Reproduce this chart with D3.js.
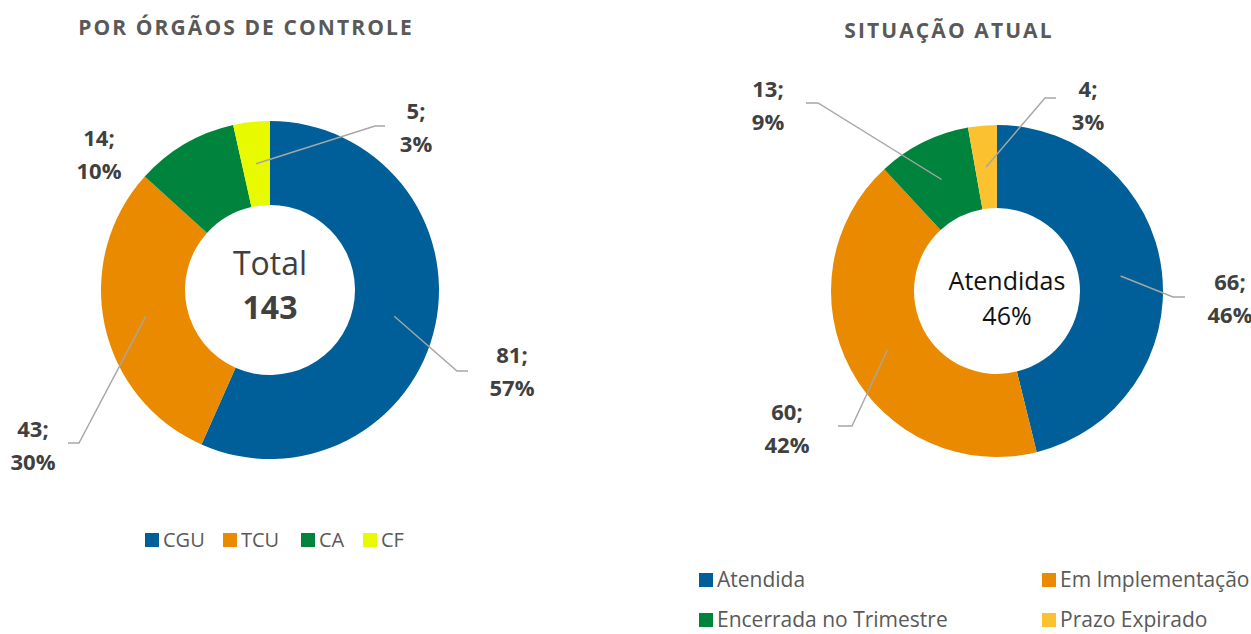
<!DOCTYPE html>
<html><head><meta charset="utf-8">
<script src="https://cdn.jsdelivr.net/npm/d3@7"></script>
<style>
html,body{margin:0;padding:0;background:#fff;}
svg{display:block;font-family:"Open Sans",sans-serif;}
</style></head>
<body>
<svg id="chart" width="1251" height="634"></svg>
<script>
// ---- data ----
const orgCategories = ["CGU", "TCU", "CA", "CF"];
const orgValues = [81, 43, 14, 5];
const sitCategories = ["Atendida", "Em Implementação", "Encerrada no Trimestre", "Prazo Expirado"];
const sitValues = [66, 60, 13, 4];
const titles = ["POR ÓRGÃOS DE CONTROLE", "SITUAÇÃO ATUAL"];

// ---- styles / layout ----
const orgColors = ["#005f99", "#ea8a00", "#00843d", "#e8fa00"];
const sitColors = ["#005f99", "#ea8a00", "#00843d", "#fbc12e"];
const lineColor = "#a6a6a6";
const labelColor = "#404040";

const svg = d3.select("#chart");

function donut(cfg) {
  const total = d3.sum(cfg.values);
  const pie = d3.pie().sort(null).value(d => d)(cfg.values);
  const arc = d3.arc().innerRadius(cfg.r0).outerRadius(cfg.r1);
  const g = svg.append("g").attr("transform", `translate(${cfg.cx},${cfg.cy})`);
  g.selectAll("path").data(pie).join("path")
    .attr("d", arc)
    .attr("fill", (d, i) => cfg.colors[i]);

  const color = d3.scaleOrdinal().domain(cfg.categories).range(cfg.colors);
  pie.forEach((d, i) => {
    const L = cfg.labels[i];
    const c = arc.centroid(d);
    if (L.elbow) {
      svg.append("polyline")
        .attr("points", [[cfg.cx + c[0], cfg.cy + c[1]], L.elbow, [L.endX, L.elbow[1]]].map(p => p.join(",")).join(" "))
        .attr("fill", "none").attr("stroke", lineColor).attr("stroke-width", 1.4);
    }
    const pct = Math.round(d.value / total * 100);
    const t = svg.append("text").attr("text-anchor", "middle")
      .attr("font-weight", 700).attr("font-size", 22).attr("fill", labelColor);
    t.append("tspan").attr("x", L.x).attr("y", L.y).text(d.value + ";");
    t.append("tspan").attr("x", L.x).attr("y", L.y + 33).text(pct + "%");
  });

  // title
  svg.append("text").attr("x", cfg.titleX).attr("y", cfg.titleY)
    .attr("text-anchor", "middle").attr("font-weight", 700).attr("font-size", 21)
    .attr("letter-spacing", 2.1).attr("fill", "#595959").text(cfg.title);

  // legend
  cfg.categories.forEach((name, i) => {
    const p = cfg.legendPos[i];
    svg.append("rect").attr("x", p[0]).attr("y", p[1] - 7).attr("width", 14).attr("height", 14)
      .attr("fill", color(name));
    svg.append("text").attr("x", p[0] + 18).attr("y", p[1] + 7)
      .attr("font-size", cfg.legendSize).attr("fill", "#595959").text(name);
  });
  return {g, total};
}

// ---- left chart ----
const left = donut({
  values: orgValues, categories: orgCategories, colors: orgColors,
  cx: 270, cy: 290, r0: 85, r1: 169,
  title: titles[0], titleX: 246, titleY: 35, legendSize: 20,
  labels: [
    {x: 512, y: 363, elbow: [457, 371], endX: 468},
    {x: 33, y: 437, elbow: [79, 443], endX: 68},
    {x: 99, y: 146},
    {x: 416, y: 119, elbow: [375, 126], endX: 385}
  ],
  legendPos: [[145, 540], [223, 540], [301, 540], [363, 540]]
});
svg.append("text").attr("x", 270).attr("y", 275).attr("text-anchor", "middle")
  .attr("font-size", 32).attr("fill", "#404040").text("Total");
svg.append("text").attr("x", 270).attr("y", 319).attr("text-anchor", "middle")
  .attr("font-size", 32).attr("font-weight", 700).attr("fill", "#404040").text(left.total);

// ---- right chart ----
const right = donut({
  values: sitValues, categories: sitCategories, colors: sitColors,
  cx: 997, cy: 291, r0: 83, r1: 166,
  title: titles[1], titleX: 949, titleY: 38, legendSize: 21,
  labels: [
    {x: 1230, y: 290, elbow: [1173, 297], endX: 1185},
    {x: 787, y: 420, elbow: [852, 426], endX: 838},
    {x: 768, y: 97, elbow: [818, 103], endX: 806},
    {x: 1088, y: 97, elbow: [1045, 98], endX: 1056}
  ],
  legendPos: [[699, 580], [1042, 580], [699, 620], [1042, 620]]
});
svg.append("text").attr("x", 1007).attr("y", 290).attr("text-anchor", "middle")
  .attr("font-size", 25).attr("fill", "#111").text("Atendidas");
svg.append("text").attr("x", 1007).attr("y", 325).attr("text-anchor", "middle")
  .attr("font-size", 25).attr("fill", "#111").text(Math.round(sitValues[0] / right.total * 100) + "%");
</script>
</body></html>
